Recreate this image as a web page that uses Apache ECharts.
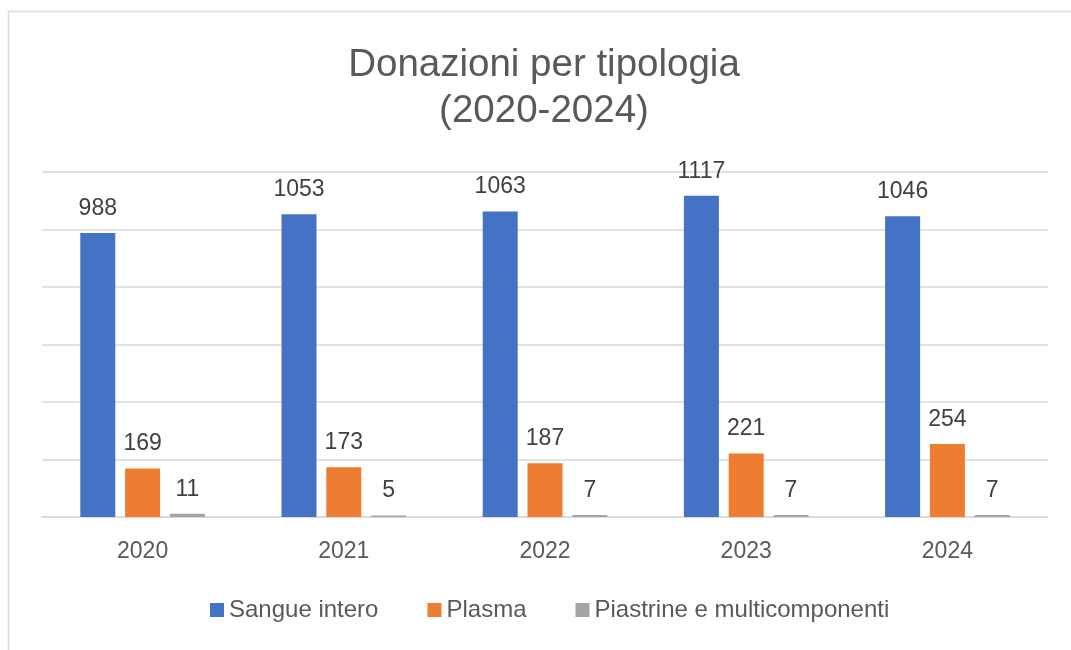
<!DOCTYPE html>
<html>
<head>
<meta charset="utf-8">
<script src="https://cdn.jsdelivr.net/npm/echarts@6/dist/echarts.min.js"></script>
<style>
  html, body { margin: 0; padding: 0; background: #fff; }
  #chart { width: 1071px; height: 650px; }
</style>
</head>
<body>
<div id="chart"></div>
<script>
const years = ['2020', '2021', '2022', '2023', '2024'];
const sangueIntero = [988, 1053, 1063, 1117, 1046];
const plasma = [169, 173, 187, 221, 254];
const piastrine = [11, 5, 7, 7, 7];

const FONT = '"Liberation Sans", Arial, sans-serif';

function barSeries(name, data, color) {
  return {
    name: name,
    type: 'bar',
    data: data,
    barWidth: 35,
    barGap: '28%',
    itemStyle: { color: color },
    label: {
      show: true,
      position: 'top',
      distance: 13,
      color: '#404040',
      fontSize: 23,
      fontFamily: FONT
    }
  };
}

const chart = echarts.init(document.getElementById('chart'));

chart.setOption({
  animation: false,
  backgroundColor: '#fff',
  graphic: [{
    type: 'rect',
    z: -10,
    shape: { x: 8.5, y: 11.5, width: 1100, height: 700 },
    style: { fill: 'none', stroke: '#d9d9d9', lineWidth: 1.5 }
  }],
  title: {
    text: 'Donazioni per tipologia\n(2020-2024)',
    // centred over the plot area, not the page
    left: 539,
    textAlign: 'center',
    top: 37,
    textStyle: {
      color: '#595959',
      fontSize: 38.5,
      fontWeight: 'normal',
      fontFamily: FONT,
      lineHeight: 46
    }
  },
  legend: {
    bottom: 23,
    left: 205,
    itemWidth: 14,
    itemHeight: 14,
    itemGap: 49,
    icon: 'rect',
    textStyle: { color: '#595959', fontSize: 24, fontFamily: FONT }
  },
  grid: { left: 42, right: 23, top: 172, bottom: 133 },
  xAxis: {
    type: 'category',
    data: years,
    axisLine: { lineStyle: { color: '#d9d9d9', width: 1.5 } },
    axisTick: { show: false },
    axisLabel: { color: '#595959', fontSize: 23, fontFamily: FONT, margin: 23 }
  },
  yAxis: {
    type: 'value',
    min: 0,
    max: 1200,
    interval: 200,
    axisLabel: { show: false },
    axisLine: { show: false },
    axisTick: { show: false },
    splitLine: { lineStyle: { color: '#d9d9d9', width: 1.5 } }
  },
  series: [
    barSeries('Sangue intero', sangueIntero, '#4472c4'),
    barSeries('Plasma', plasma, '#ed7d31'),
    barSeries('Piastrine e multicomponenti', piastrine, '#a5a5a5')
  ]
});
</script>
</body>
</html>
